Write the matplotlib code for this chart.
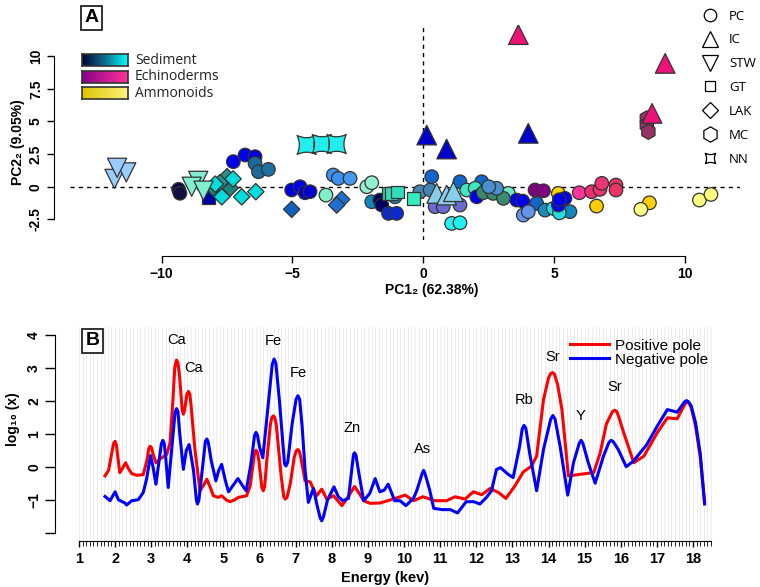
import numpy as np
import matplotlib
matplotlib.use('Agg')
import matplotlib.pyplot as plt
from matplotlib.path import Path
from matplotlib.lines import Line2D
from matplotlib.colors import LinearSegmentedColormap

plt.rcParams['font.family'] = ['Liberation Sans', 'DejaVu Sans']

W, H = 760, 587

# ---------------- panel A data (PCA scores) ----------------
pc_x = [-9.35, -9.3, -7.26, -6.81, -6.43, -6.43, -6.3, -5.92, -5.03, -4.71, -4.52, -4.33,
        -3.72, -3.44, -3.25, -2.8, -2.16, -1.97, -1.97, -1.66, -1.59, -1.33, -1.02, -1.08,
        -0.13, 0.26, 0.32, 1.4, 2.23, 0.45, 0.76, 1.4, 1.08, 1.4, 1.66, 1.98, 3.25,
        2.04, 3.57, 3.8, 2.29, 2.67, 3.06, 2.8, 2.5, 4.27, 4.59, 5.16, 4.33, 3.82, 4.01,
        4.65, 5.6, 4.97, 5.2, 5.16, 5.41, 5.2, 5.96, 6.43, 6.75, 6.82, 7.36, 7.36,
        6.62, 8.64, 8.31, 10.55, 10.99]
pc_y = [-0.2, -0.5, 1.92, 2.43, 2.3, 1.79, 1.15, 1.33, -0.25, 0.0, -0.46, -0.38,
        -0.64, 0.9, 0.64, 0.64, 0.0, 0.31, -1.15, -1.02, -1.4, -2.04, -2.04, -0.77,
        -0.38, -0.25, 0.77, 0.38, 0.38, -1.53, -1.53, -1.4, -2.81, -2.76, -0.25, -0.12, -0.51,
        -0.77, -1.02, -1.1, -0.46, -0.51, -0.89, -0.12, 0.0, -0.25, -0.31, -0.51, -1.28, -2.17, -1.91,
        -1.79, -1.91, -1.66, -2.0, -1.4, -0.89, -1.0, -0.46, -0.38, -0.2, 0.26, 0.13, -0.25,
        -1.48, -1.23, -1.73, -1.02, -0.59]
pc_c = ['#06063a', '#101040', '#0000ee', '#0000ee', '#0000dd', '#1a6a9a', '#1a6a9a', '#1f6f9f',
        '#0000dd', '#0000ee', '#0000cc', '#0000cc', '#80f0c8', '#3d8ef0', '#3d8ef0', '#4499ee',
        '#90f0d0', '#90f0d0', '#1188bb', '#000050', '#000060', '#0a2ad0', '#0a2ad0', '#1a8ab8',
        '#4682b4', '#4682b4', '#1166cc', '#1166cc', '#1166cc', '#6a6ad0', '#6a6ad0', '#6a6ad0',
        '#22f0f0', '#22f0f0', '#40e8c0', '#40e8c0', '#70e8c8', '#0000ee', '#0000ee', '#0000ee',
        '#3a8a70', '#3a8a70', '#3a8a70', '#4a90d0', '#4a90d0', '#800080', '#800080', '#ffd700',
        '#1166cc', '#6495ed', '#6495ed', '#1a8ab8', '#1188bb', '#22dddd', '#22dddd', '#0000ff',
        '#0000ee', '#0000ee', '#ff3399', '#f03070', '#f03070', '#ee3377', '#ee3366', '#ee3366',
        '#ffcc00', '#ffd000', '#ffff88', '#ffff80', '#ffff80']

ic_x = [0.13, 0.89, 4.01, 3.63, 9.24, 8.74, 0.51, 0.89, 1.15]
ic_y = [3.96, 2.89, 4.09, 11.65, 9.45, 5.62, -0.51, -0.64, -0.38]
ic_c = ['#0000cc', '#0000cc', '#0000cc', '#ee1177', '#ee1177', '#ee1177',
        '#87ceeb', '#87ceeb', '#87ceeb']

stw_x = [-11.8, -11.35, -11.7, -8.6, -8.85, -8.4]
stw_y = [0.6, 1.1, 1.45, 0.45, 0.0, -0.3]
stw_c = ['#99ccff', '#99ccff', '#99ccff', '#80f0d0', '#80f0d0', '#80f0d0']

gt_x = [-8.2, -1.33, -1.21, -0.38, -1.0]
gt_y = [-0.8, -0.51, -0.51, -0.89, -0.4]
gt_c = ['#0000aa', '#33ccaa', '#33ddbb', '#33eebb', '#33ddbb']

lak_x = [-8.03, -7.38, -7.5, -7.77, -7.7, -6.94, -6.4, -7.27, -7.95, -5.03, -3.12, -3.31]
lak_y = [-0.1, -0.1, 0.77, 0.31, -0.77, -0.77, -0.38, 0.6, 0.2, -1.73, -0.97, -1.4]
lak_c = ['#1f8080', '#1f8080', '#2a9090', '#2a9090', '#00dddd', '#00dddd', '#00dddd',
         '#00dddd', '#00dddd', '#1060c0', '#1e6fcf', '#1e6fcf']

mc_x = [8.54, 8.54, 8.6]
mc_y = [5.24, 4.73, 4.21]
mc_c = ['#993366', '#993366', '#993366']

nn_x = [-4.46, -3.88, -3.31]
nn_y = [3.2, 3.27, 3.27]
nn_c = ['#22eeee', '#22eeee', '#22eeee']

# ---------------- panel B data (loadings spectra, energy keV / log10) ----------------
pos_pole = [
    (1.72, -0.27), (1.82, -0.1), (1.92, 0.5), (1.96, 0.72), (2.0, 0.78), (2.04, 0.65), (2.07, 0.35),
    (2.13, -0.17), (2.2, -0.05), (2.29, 0.13), (2.37, -0.05), (2.46, -0.2), (2.6, -0.25),
    (2.78, -0.23), (2.88, 0.2), (2.93, 0.55), (2.97, 0.63), (3.01, 0.58), (3.05, 0.4), (3.13, 0.13),
    (3.25, 0.25), (3.43, 0.38), (3.52, 0.73), (3.6, 2.0), (3.65, 3.0), (3.7, 3.24), (3.74, 3.15),
    (3.78, 2.8), (3.86, 1.7), (3.89, 1.6), (3.92, 1.7), (3.96, 2.0), (3.99, 2.22), (4.03, 2.29),
    (4.07, 2.2), (4.1, 1.9), (4.21, 0.53), (4.35, -0.72), (4.45, -0.55), (4.54, -0.37), (4.63, -0.6),
    (4.72, -0.87), (4.85, -0.92), (4.95, -0.87), (5.08, -1.0), (5.18, -1.05), (5.3, -1.0),
    (5.41, -0.92), (5.64, -0.87), (5.74, -0.57), (5.82, 0.1), (5.86, 0.42), (5.9, 0.51), (5.94, 0.45),
    (5.98, 0.2), (6.06, -0.6), (6.1, -0.72), (6.14, -0.6), (6.2, 0.2), (6.3, 1.3), (6.34, 1.5),
    (6.38, 1.55), (6.42, 1.5), (6.46, 1.3), (6.6, -0.3), (6.67, -0.9), (6.71, -0.97), (6.76, -0.92),
    (6.85, -0.5), (6.96, 0.3), (7.02, 0.5), (7.06, 0.53), (7.1, 0.48), (7.14, 0.3), (7.26, -0.42),
    (7.4, -0.45), (7.58, -0.87), (7.72, -0.67), (7.86, -0.97), (8.05, -0.87), (8.28, -1.17),
    (8.45, -0.9), (8.63, -0.59), (8.76, -0.8), (8.88, -1.02), (9.06, -1.1), (9.33, -1.09),
    (9.7, -0.97), (10.03, -0.85), (10.26, -1.02), (10.52, -0.9), (10.86, -1.02), (11.18, -1.02),
    (11.41, -0.9), (11.69, -0.97), (11.92, -0.75), (12.15, -0.84), (12.38, -0.65), (12.61, -0.77),
    (12.82, -0.95), (13.07, -0.57), (13.3, -0.15), (13.53, 0.03), (13.67, 0.33), (13.86, 2.04),
    (14.0, 2.7), (14.06, 2.83), (14.11, 2.86), (14.16, 2.82), (14.25, 2.5), (14.37, 1.74),
    (14.55, -0.27), (14.88, -0.22), (15.25, -0.17), (15.43, 0.43), (15.6, 1.3), (15.77, 1.68),
    (15.83, 1.72), (15.89, 1.68), (15.95, 1.5), (16.08, 1.04), (16.36, 0.13), (16.64, 0.33),
    (17.01, 1.04), (17.29, 1.49), (17.56, 1.46), (17.79, 1.93), (17.84, 1.96), (17.89, 1.93),
    (17.95, 1.8), (18.07, 1.24), (18.2, 0.3), (18.32, -1.05)]

neg_pole = [
    (1.72, -0.89), (1.86, -1.02), (2.0, -0.75), (2.09, -0.99), (2.27, -1.09), (2.32, -1.15),
    (2.46, -1.02), (2.64, -0.99), (2.78, -0.77), (2.87, -0.37), (2.98, 0.35), (3.05, 0.0),
    (3.13, -0.52), (3.22, 0.2), (3.28, 0.7), (3.32, 0.81), (3.36, 0.72), (3.4, 0.3), (3.47, -0.62),
    (3.58, 0.7), (3.66, 1.65), (3.7, 1.77), (3.74, 1.68), (3.79, 1.0), (3.89, -0.07), (3.97, 0.5),
    (4.05, 0.68), (4.17, -0.1), (4.25, -1.0), (4.28, -1.12), (4.32, -1.0), (4.4, -0.2), (4.5, 0.78),
    (4.54, 0.85), (4.58, 0.75), (4.66, 0.2), (4.79, -0.42), (4.87, -0.1), (4.95, 0.08), (5.05, -0.4),
    (5.14, -0.75), (5.27, -0.55), (5.4, -0.35), (5.52, -0.55), (5.63, -0.72), (5.76, 0.1),
    (5.86, 0.95), (5.9, 1.05), (5.94, 0.97), (6.0, 0.6), (6.09, 0.28), (6.25, 2.0), (6.35, 3.1),
    (6.4, 3.27), (6.45, 3.15), (6.55, 2.0), (6.69, 0.1), (6.73, 0.03), (6.78, 0.15), (6.9, 1.3),
    (7.01, 2.05), (7.06, 2.16), (7.11, 2.05), (7.18, 1.2), (7.26, -0.1), (7.35, -1.07),
    (7.49, -0.65), (7.6, -1.2), (7.68, -1.55), (7.72, -1.63), (7.77, -1.5), (7.88, -1.0),
    (8.06, -0.6), (8.18, -0.9), (8.3, -1.02), (8.46, -0.95), (8.55, -0.1), (8.6, 0.38), (8.63, 0.43),
    (8.67, 0.35), (8.72, 0.0), (8.88, -1.02), (9.05, -0.8), (9.2, -0.35), (9.33, -0.75),
    (9.45, -0.7), (9.56, -0.52), (9.74, -1.02), (9.89, -1.02), (10.05, -1.17), (10.26, -0.95),
    (10.35, -0.72), (10.5, -0.2), (10.54, -0.1), (10.58, -0.2), (10.71, -0.7), (10.82, -1.25),
    (11.05, -1.29), (11.28, -1.29), (11.48, -1.39), (11.72, -1.05), (11.93, -1.05), (12.1, -1.12),
    (12.28, -0.92), (12.42, -0.72), (12.56, -0.07), (12.67, -0.02), (12.88, -0.22), (13.02, -0.32),
    (13.2, 0.63), (13.27, 1.15), (13.32, 1.26), (13.37, 1.18), (13.48, 0.4), (13.67, -0.72),
    (13.86, 0.53), (14.06, 1.45), (14.12, 1.56), (14.18, 1.45), (14.32, 0.63), (14.53, -0.85),
    (14.69, 0.13), (14.85, 0.72), (14.9, 0.81), (14.95, 0.72), (15.1, 0.13), (15.29, -0.49),
    (15.52, 0.33), (15.67, 0.74), (15.73, 0.81), (15.79, 0.77), (15.93, 0.53), (16.15, 0.01),
    (16.35, 0.18), (16.72, 0.68), (17.01, 1.24), (17.29, 1.74), (17.56, 1.66), (17.77, 1.98),
    (17.82, 2.01), (17.87, 1.98), (17.95, 1.85), (18.07, 1.34), (18.2, 0.4), (18.32, -1.12)]

pos_e, pos_v = zip(*pos_pole)
neg_e, neg_v = zip(*neg_pole)

peak_lab = ['Ca', 'Ca', 'Fe', 'Fe', 'Zn', 'As', 'Rb', 'Sr', 'Y', 'Sr']
peak_e = [3.69, 4.16, 6.38, 7.06, 8.57, 10.52, 13.33, 14.12, 14.88, 15.82]
peak_v = [3.85, 3.0, 3.83, 2.85, 1.17, 0.56, 2.04, 3.34, 1.54, 2.43]

# concave square marker for NN
nn_marker = Path([(-1, -1), (0, -0.5), (1, -1), (0.5, 0), (1, 1), (0, 0.5), (-1, 1), (-0.5, 0), (-1, -1)],
                 [Path.MOVETO] + [Path.CURVE3] * 8)

fig = plt.figure(figsize=(W / 100, H / 100), dpi=100)

# ================= PANEL A =================
axA = fig.add_axes([70 / W, 1 - 240 / H, 670 / W, 215 / H])
axA.set_xlim(-13.5, 12.1)
axA.set_ylim(-4.08, 12.39)
axA.axhline(0, color='black', ls=(0, (3, 3)), lw=1, zorder=0)
axA.axvline(0, color='black', ls=(0, (3, 3)), lw=1, zorder=0)

ek = dict(edgecolors='#333333', linewidths=0.9)
axA.scatter(pc_x, pc_y, c=pc_c, marker='o', s=95, **ek)
axA.scatter(gt_x, gt_y, c=gt_c, marker='s', s=85, **ek)
axA.scatter(lak_x, lak_y, c=lak_c, marker='D', s=70, **ek)
axA.scatter(mc_x, mc_y, c=mc_c, marker='h', s=120, **ek)
axA.scatter(nn_x, nn_y, c=nn_c, marker=nn_marker, s=190, **ek)
axA.scatter(stw_x, stw_y, c=stw_c, marker='v', s=190, **ek)
axA.scatter(ic_x, ic_y, c=ic_c, marker='^', s=200, **ek)

for side in ['top', 'right']:
    axA.spines[side].set_visible(False)
axA.spines['left'].set_position(('outward', 11.5))
axA.spines['bottom'].set_position(('outward', 11.5))
axA.spines['left'].set_bounds(-2.5, 10)
axA.spines['bottom'].set_bounds(-10, 10)
axA.set_xticks([-10, -5, 0, 5, 10])
axA.set_xticklabels(['\u221210', '\u22125', '0', '5', '10'], fontweight='bold', fontsize=10)
axA.set_yticks([-2.5, 0, 2.5, 5, 7.5, 10])
axA.set_yticklabels(['-2.5', '0', '2.5', '5', '7.5', '10'], fontweight='bold', fontsize=10,
                    rotation=90, va='center')
axA.tick_params(direction='out', length=5, width=1, pad=3)
fig.text(432 / W, 1 - 290 / H, 'PC1\u2082 (62.38%)', ha='center', va='center',
         fontweight='bold', fontsize=10)
fig.text(18 / W, 1 - 142 / H, 'PC2\u2082 (9.05%)', ha='center', va='center',
         fontweight='bold', fontsize=10, rotation=90)

# gradient colour legend
groups = ['Sediment', 'Echinoderms', 'Ammonoids']
grad = [['#000033', '#0e6e8e', '#00ffff'], ['#880088', '#ff3399'], ['#dcc400', '#fff27a']]
for i, (g, cols) in enumerate(zip(groups, grad)):
    y0 = 54 + i * 16.6
    sax = fig.add_axes([82 / W, 1 - (y0 + 12) / H, 46 / W, 12 / H])
    sax.imshow(np.linspace(0, 1, 256)[None, :], aspect='auto',
               cmap=LinearSegmentedColormap.from_list(g, cols))
    sax.set_xticks([])
    sax.set_yticks([])
    for s in sax.spines.values():
        s.set_color('#333333')
        s.set_linewidth(1.2)
    fig.text(135 / W, 1 - (y0 + 6) / H, g, va='center', fontsize=10,
             family=['Open Sans', 'DejaVu Sans'], color='#222222')

# shape legend
shapes = ['PC', 'IC', 'STW', 'GT', 'LAK', 'MC', 'NN']
marks = ['o', '^', 'v', 's', 'D', 'h', nn_marker]
msz = [9, 12, 12, 7.7, 8.5, 11, 7.5]
handles = [Line2D([], [], ls='', marker=m, ms=z, mfc='white', mec='black', mew=0.9)
           for m, z in zip(marks, msz)]
fig.legend(handles, shapes, loc='upper left', bbox_to_anchor=(690 / W, 1 - 3 / H),
           frameon=False, handletextpad=0.45, labelspacing=0.82, borderpad=0,
           prop={'family': ['Open Sans', 'DejaVu Sans'], 'size': 9.5})

fig.text(91.5 / W, 1 - 17.5 / H, 'A', ha='center', va='center', fontsize=14, fontweight='bold',
         bbox=dict(boxstyle='square,pad=0.18', fc='white', ec='#222222', lw=1.3))

# ================= PANEL B =================
axB = fig.add_axes([55 / W, 1 - 541 / H, 670 / W, 214 / H])
axB.set_xlim(0.336, 18.885)
axB.set_ylim(-2.24, 4.24)
for e in np.arange(10, 186) / 10:
    axB.axvline(e, color='#e6e6e6', lw=0.5, zorder=0)
axB.plot(pos_e, pos_v, color='#ff0000', lw=2.2, label='Positive pole', solid_joinstyle='round')
axB.plot(neg_e, neg_v, color='#0000ff', lw=2.2, label='Negative pole', solid_joinstyle='round')
for lab, e, v in zip(peak_lab, peak_e, peak_v):
    axB.text(e, v, lab, ha='center', va='center', fontsize=10.5)

for side in ['top', 'right']:
    axB.spines[side].set_visible(False)
axB.spines['left'].set_bounds(-2, 4)
axB.spines['bottom'].set_bounds(1, 18.5)
axB.set_yticks([-2, -1, 0, 1, 2, 3, 4])
axB.set_yticklabels(['', '\u22121', '0', '1', '2', '3', '4'], fontweight='bold', fontsize=10,
                    rotation=90, va='center')
axB.set_xticks(np.arange(1, 19))
axB.set_xticklabels([str(k) for k in range(1, 19)], fontweight='bold', fontsize=10.5)
axB.set_xticks(np.arange(10, 186) / 10, minor=True)
axB.tick_params(axis='y', direction='out', length=7, width=1, pad=3)
axB.tick_params(axis='x', which='major', direction='out', length=4, width=1, pad=4)
axB.tick_params(axis='x', which='minor', direction='out', length=3.5, width=0.6)
fig.text(385 / W, 1 - 578 / H, 'Energy (kev)', ha='center', va='center',
         fontweight='bold', fontsize=10.5)
fig.text(13 / W, 1 - 419 / H, 'log\u2081\u2080 (x)', ha='center', va='center',
         fontweight='bold', fontsize=10, rotation=90)
axB.legend(loc='upper left', bbox_to_anchor=(562 / W, 1 - 331 / H), bbox_transform=fig.transFigure,
           frameon=False, handlelength=2.6, handletextpad=0.35, labelspacing=0.0, borderpad=0,
           fontsize=11)

fig.text(92.5 / W, 1 - 340.5 / H, 'B', ha='center', va='center', fontsize=14, fontweight='bold',
         bbox=dict(boxstyle='square,pad=0.18', fc='white', ec='#222222', lw=1.3))

fig.savefig('out.png', dpi=100)
